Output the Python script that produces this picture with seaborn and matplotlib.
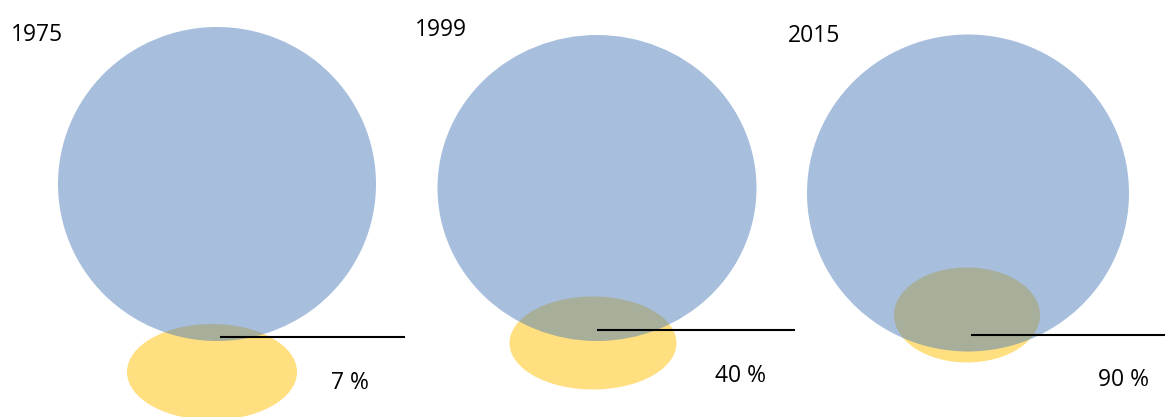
import matplotlib
matplotlib.use("Agg")
import matplotlib.pyplot as plt
from matplotlib.patches import Ellipse
import seaborn as sns

# data
years = ["1975", "1999", "2015"]
shares = [7, 40, 90]

# layout (pixel coordinates of the canvas, y pointing down)
blue_xy = [(217, 184), (597, 188), (968, 193)]
blue_wh = [(318, 314), (319, 306), (322, 317)]
yellow_xy = [(212, 372), (593, 343), (967, 315)]
yellow_wh = [(170, 96), (167, 93), (146, 95)]
line_y = [337, 330, 335]
line_x = [(220, 405), (597, 795), (971, 1165)]
year_pos = [(11, 35), (415, 30), (788, 36)]
label_pos = [(331, 383), (715, 376), (1098, 380)]

sns.set_theme(style="white")
plt.rcParams["font.family"] = ["Open Sans", "DejaVu Sans"]

fig = plt.figure(figsize=(11.66, 4.17), dpi=100)
ax = fig.add_axes([0, 0, 1, 1])
ax.set_xlim(0, 1166)
ax.set_ylim(417, 0)
ax.axis("off")

for i in range(len(years)):
    ax.add_patch(Ellipse(yellow_xy[i], *yellow_wh[i], facecolor="#FFC000",
                         alpha=0.5, edgecolor="none"))
    ax.add_patch(Ellipse(blue_xy[i], *blue_wh[i], facecolor="#4477B7",
                         alpha=0.47, edgecolor="none"))
    ax.hlines(line_y[i], *line_x[i], color="black", lw=1.5)
    ax.text(*year_pos[i], years[i], fontsize=16.5, va="center", ha="left",
            color="black")
    ax.text(*label_pos[i], f"{shares[i]} %", fontsize=16.5, va="center",
            ha="left", color="black")

fig.savefig("out.png", dpi=100)
